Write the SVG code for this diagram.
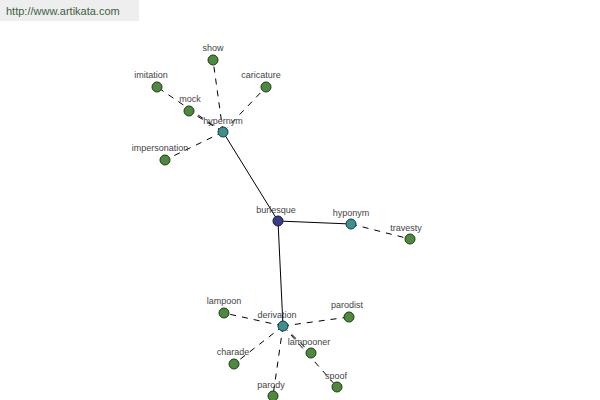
<svg xmlns="http://www.w3.org/2000/svg" width="600" height="400" viewBox="0 0 600 400">
<style>
.bg{fill:#ffffff}
.wm{fill:#eeeeee}
.wmt{font-family:"Liberation Sans",Arial,sans-serif;font-size:11px;fill:#3f5f3f}
.lbl{font-family:"Liberation Sans",Arial,sans-serif;font-size:9px;fill:#444444;text-anchor:middle}
.solid{stroke:#000000;stroke-width:1;fill:none}
.dash{stroke:#000000;stroke-width:1;fill:none;stroke-dasharray:6,6}
.leaf{fill:#4e8a3e;stroke:#1e3a18;stroke-width:1}
.mid{fill:#3c9090;stroke:#1a3a3a;stroke-width:1}
.root{fill:#3c3c8c;stroke:#16163a;stroke-width:1}
</style>
<rect class="bg" x="0" y="0" width="600" height="400"/>
<rect class="wm" x="0" y="0" width="139" height="21"/>
<text class="wmt" x="6" y="15">http://www.artikata.com</text>
<g id="connectors">
<line class="solid" x1="278" y1="221" x2="223" y2="132"/>
<line class="solid" x1="278" y1="221" x2="351" y2="224"/>
<line class="solid" x1="278" y1="221" x2="283" y2="326"/>
<line class="dash" x1="223" y1="132" x2="213" y2="60"/>
<line class="dash" x1="223" y1="132" x2="157" y2="87"/>
<line class="dash" x1="223" y1="132" x2="266" y2="87"/>
<line class="dash" x1="223" y1="132" x2="189" y2="111"/>
<line class="dash" x1="223" y1="132" x2="165" y2="160"/>
<line class="dash" x1="351" y1="224" x2="410" y2="239"/>
<line class="dash" x1="283" y1="326" x2="224" y2="313"/>
<line class="dash" x1="283" y1="326" x2="349" y2="317"/>
<line class="dash" x1="283" y1="326" x2="234" y2="364"/>
<line class="dash" x1="283" y1="326" x2="311" y2="353"/>
<line class="dash" x1="283" y1="326" x2="337" y2="387"/>
<line class="dash" x1="283" y1="326" x2="273" y2="396"/>
</g>
<g id="show"><circle class="leaf" cx="213" cy="60" r="5"/><text class="lbl" x="213" y="51">show</text></g>
<g id="imitation"><circle class="leaf" cx="157" cy="87" r="5"/><text class="lbl" x="151" y="78">imitation</text></g>
<g id="caricature"><circle class="leaf" cx="266" cy="87" r="5"/><text class="lbl" x="261" y="78">caricature</text></g>
<g id="mock"><circle class="leaf" cx="189" cy="111" r="5"/><text class="lbl" x="190" y="102">mock</text></g>
<g id="impersonation"><circle class="leaf" cx="165" cy="160" r="5"/><text class="lbl" x="160" y="151">impersonation</text></g>
<g id="hypernym"><circle class="mid" cx="223" cy="132" r="5"/><text class="lbl" x="223" y="124">hypernym</text></g>
<g id="burlesque"><circle class="root" cx="278" cy="221" r="5"/><text class="lbl" x="276" y="213">burlesque</text></g>
<g id="hyponym"><circle class="mid" cx="351" cy="224" r="5"/><text class="lbl" x="351" y="216">hyponym</text></g>
<g id="travesty"><circle class="leaf" cx="410" cy="239" r="5"/><text class="lbl" x="406" y="231">travesty</text></g>
<g id="derivation"><circle class="mid" cx="283" cy="326" r="5"/><text class="lbl" x="277" y="318">derivation</text></g>
<g id="lampoon"><circle class="leaf" cx="224" cy="313" r="5"/><text class="lbl" x="224" y="304">lampoon</text></g>
<g id="parodist"><circle class="leaf" cx="349" cy="317" r="5"/><text class="lbl" x="347" y="308">parodist</text></g>
<g id="charade"><circle class="leaf" cx="234" cy="364" r="5"/><text class="lbl" x="233" y="355">charade</text></g>
<g id="lampooner"><circle class="leaf" cx="311" cy="353" r="5"/><text class="lbl" x="309" y="345">lampooner</text></g>
<g id="spoof"><circle class="leaf" cx="337" cy="387" r="5"/><text class="lbl" x="336" y="379">spoof</text></g>
<g id="parody"><circle class="leaf" cx="273" cy="396" r="5"/><text class="lbl" x="271" y="388">parody</text></g>
</svg>
